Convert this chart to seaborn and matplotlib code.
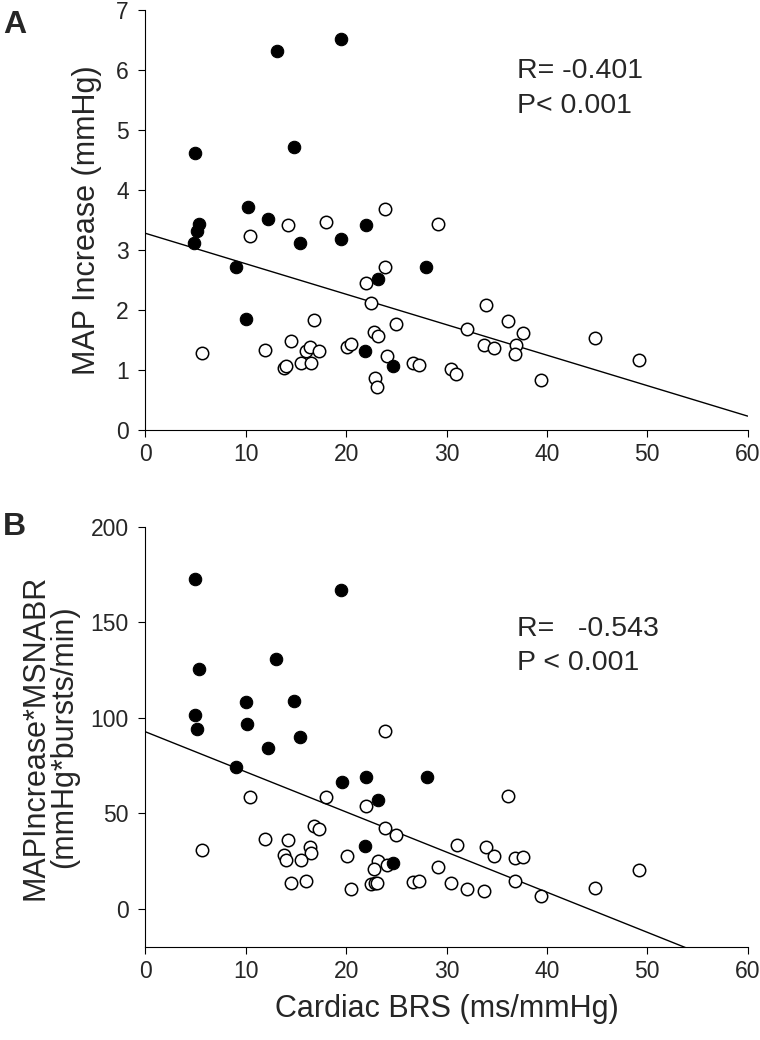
import numpy as np
import seaborn as sns
import matplotlib.pyplot as plt

# Panel A - MAP increase vs cardiac BRS
a_filled_x = [13.1, 19.5, 4.95, 14.8, 10.2, 12.25, 21.95, 5.35, 5.15, 4.89,
              15.44, 19.5, 9.03, 28.0, 23.15, 10.06, 21.9, 24.64]
a_filled_y = [6.32, 6.52, 4.62, 4.72, 3.72, 3.52, 3.42, 3.43, 3.32, 3.11,
              3.12, 3.18, 2.71, 2.71, 2.51, 1.85, 1.31, 1.06]
a_open_x = [14.2, 18.0, 23.9, 29.15, 10.43, 23.9, 21.98, 22.48, 16.8, 25.0,
            22.75, 23.18, 5.65, 11.95, 14.51, 13.8, 14.05, 15.5, 15.97, 16.44,
            16.5, 17.33, 20.06, 20.49, 24.07, 22.9, 23.1, 26.7, 27.26, 30.45,
            30.95, 33.9, 36.16, 32.04, 37.62, 33.77, 34.7, 36.9, 36.82, 44.76,
            49.2, 39.41]
a_open_y = [3.42, 3.47, 3.68, 3.44, 3.24, 2.71, 2.45, 2.12, 1.84, 1.77,
            1.64, 1.56, 1.28, 1.34, 1.49, 1.04, 1.07, 1.11, 1.31, 1.38,
            1.12, 1.31, 1.39, 1.43, 1.23, 0.86, 0.71, 1.11, 1.09, 1.01,
            0.94, 2.08, 1.82, 1.68, 1.61, 1.41, 1.36, 1.41, 1.26, 1.53,
            1.17, 0.83]
a_fit = [3.28, -0.0508]  # intercept, slope

# Panel B - MAP increase * MSNA burst rate vs cardiac BRS
b_filled_x = [4.95, 19.52, 5.35, 13.05, 10.06, 14.81, 4.95, 5.15, 10.16, 15.44,
              12.25, 9.03, 19.62, 21.95, 28.03, 23.15, 21.9, 24.7]
b_filled_y = [172.6, 167.0, 125.3, 130.6, 108.2, 108.6, 101.4, 94.2, 96.7, 90.1,
              84.3, 74.2, 66.5, 69.1, 69.0, 56.9, 33.0, 23.8]
b_open_x = [23.87, 10.43, 18.03, 21.98, 16.77, 17.33, 23.9, 25.0, 11.95, 14.18,
            5.65, 16.4, 16.5, 31.0, 13.8, 14.05, 15.5, 20.12, 23.18, 22.8,
            24.07, 29.15, 14.51, 15.97, 20.46, 22.45, 22.9, 23.1, 26.7, 27.26,
            30.45, 36.13, 33.9, 34.7, 36.86, 37.62, 32.04, 33.73, 36.82, 39.41,
            44.76, 49.2]
b_open_y = [92.9, 58.6, 58.3, 53.9, 43.3, 41.7, 42.1, 38.6, 36.5, 36.1,
            30.7, 32.3, 29.3, 33.4, 28.1, 25.8, 25.3, 27.6, 24.8, 20.9,
            22.7, 21.8, 13.5, 14.5, 10.5, 13.1, 13.5, 13.5, 13.8, 14.7,
            13.5, 59.2, 32.1, 27.8, 26.4, 27.1, 10.3, 9.3, 14.7, 6.6,
            10.7, 20.3]
b_fit = [92.7, -2.1]

x_ticks = [0, 10, 20, 30, 40, 50, 60]

sns.set_style('ticks')
plt.rcParams['font.family'] = ['Liberation Sans', 'DejaVu Sans']

fig = plt.figure(figsize=(7.6, 10.4), dpi=100)
ax_a = fig.add_axes([0.1912, 0.5865, 0.7926, 0.4038])
ax_b = fig.add_axes([0.1912, 0.0894, 0.7926, 0.4041])


def draw_panel(ax, fx, fy, ox, oy, fit):
    line_x = np.array([0, 60])
    sns.lineplot(x=line_x, y=fit[0] + fit[1] * line_x, ax=ax,
                 color='black', linewidth=1.0)
    sns.scatterplot(x=ox, y=oy, ax=ax, color='white', edgecolor='black',
                    linewidth=1.1, s=80, zorder=3)
    sns.scatterplot(x=fx, y=fy, ax=ax, color='black', edgecolor='black',
                    linewidth=0.8, s=80, zorder=4)
    sns.despine(ax=ax)
    ax.set_xlim(0, 60)
    ax.set_xticks(x_ticks)
    ax.tick_params(axis='both', direction='out', length=5, width=0.8,
                   labelsize=16.5, color='black')
    ax.tick_params(axis='x', pad=4)
    ax.tick_params(axis='y', pad=7)
    for s in ax.spines.values():
        s.set_linewidth(0.8)
        s.set_color('black')


draw_panel(ax_a, a_filled_x, a_filled_y, a_open_x, a_open_y, a_fit)
ax_a.set_ylim(0, 7)
ax_a.set_yticks(range(0, 8))
ax_a.set_ylabel('MAP Increase (mmHg)', fontsize=22, labelpad=10)
ax_a.text(37.0, 5.87, 'R= -0.401', fontsize=20.5)
ax_a.text(37.0, 5.29, 'P< 0.001', fontsize=20.5)

draw_panel(ax_b, b_filled_x, b_filled_y, b_open_x, b_open_y, b_fit)
ax_b.set_ylim(-20, 200)
ax_b.set_yticks([0, 50, 100, 150, 200])
ax_b.set_ylabel('MAPIncrease*MSNABR\n(mmHg*bursts/min)', fontsize=22,
                labelpad=8, linespacing=0.95)
ax_b.set_xlabel('Cardiac BRS (ms/mmHg)', fontsize=22, labelpad=8)
ax_b.text(37.0, 142.8, 'R=   -0.543', fontsize=20.5)
ax_b.text(37.0, 125.0, 'P < 0.001', fontsize=20.5)

fig.text(0.004, 0.99, 'A', fontsize=23, fontweight='bold', va='top')
fig.text(0.004, 0.508, 'B', fontsize=23, fontweight='bold', va='top')

fig.savefig('out.png', dpi=100)
